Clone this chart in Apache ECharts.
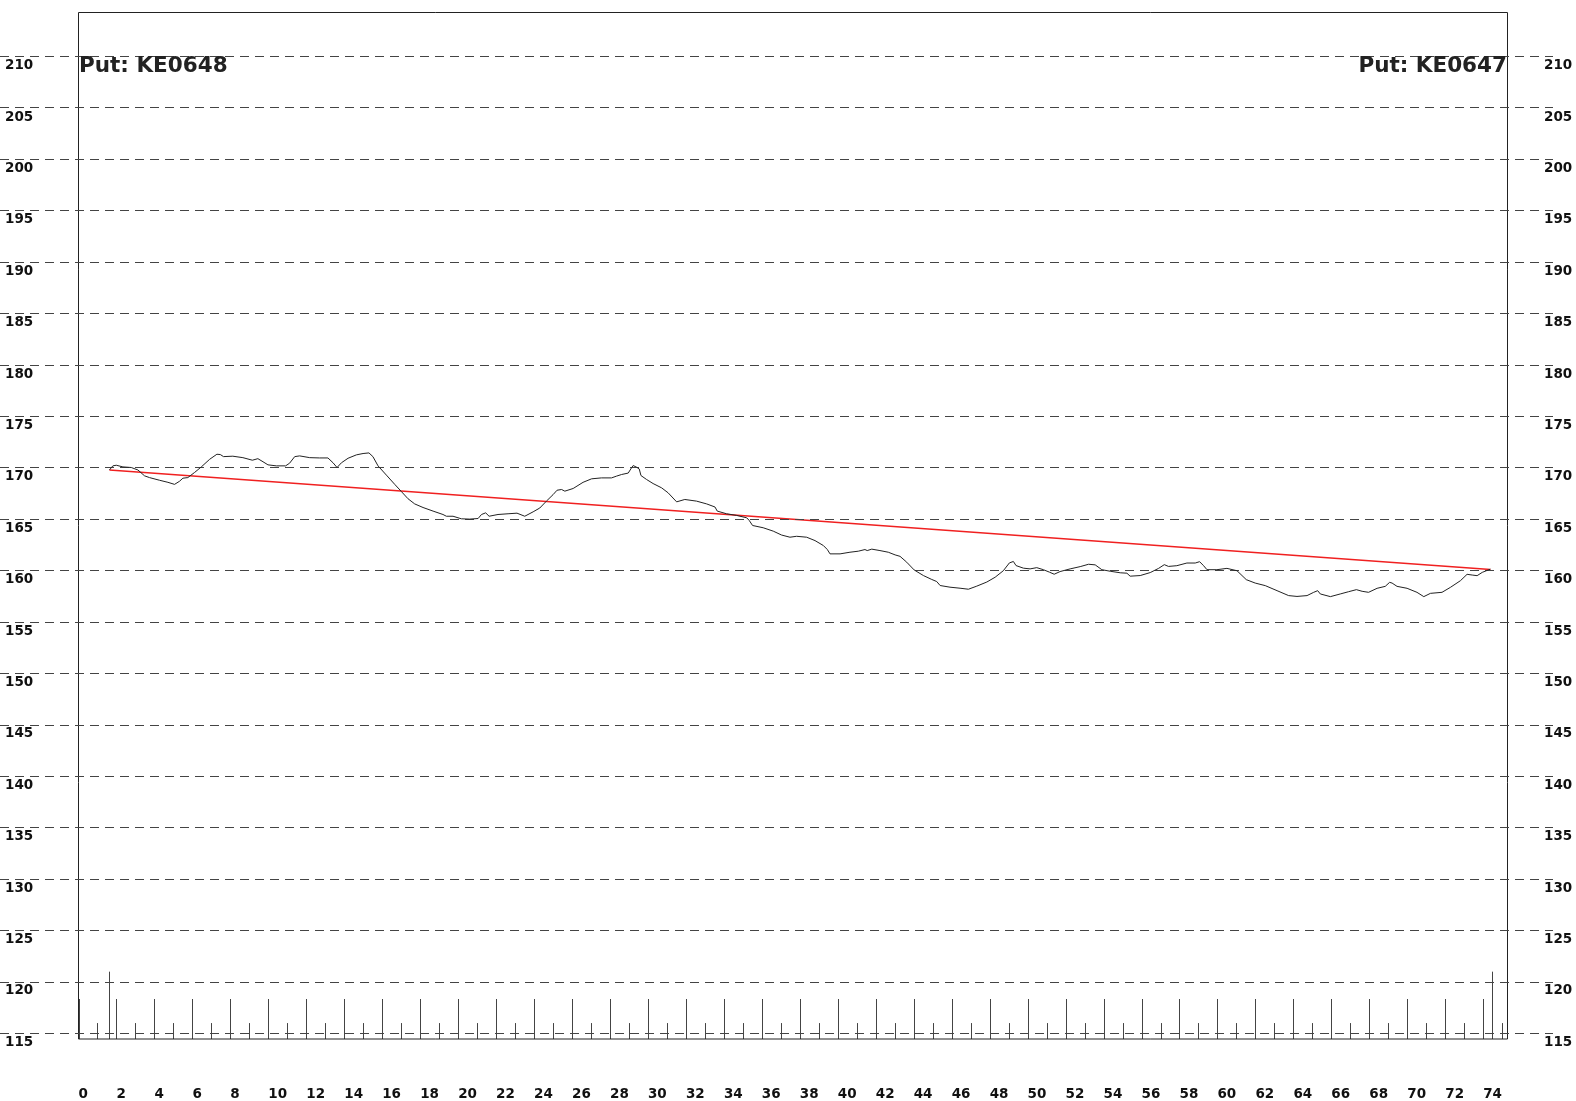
<!DOCTYPE html>
<html>
<head>
<meta charset="utf-8">
<script src="https://cdn.jsdelivr.net/npm/echarts@6/dist/echarts.min.js"></script>
<style>
html,body{margin:0;padding:0;background:#fff;}
#chart{width:1576px;height:1101px;}
</style>
</head>
<body>
<div id="chart"></div>
<script>
// ---- data ----
const titleLeft = 'Put: KE0648';
const titleRight = 'Put: KE0647';

const yTickValues = [115,120,125,130,135,140,145,150,155,160,165,170,175,180,185,190,195,200,205,210];
const xTickValues = [0,2,4,6,8,10,12,14,16,18,20,22,24,26,28,30,32,34,36,38,40,42,44,46,48,50,52,54,56,58,60,62,64,66,68,70,72,74];

const priceX = [1.63,1.81,1.99,2.34,2.78,3.13,3.48,3.74,4.27,4.71,5.06,5.32,5.50,5.76,6.11,6.47,6.91,7.29,7.47,7.64,
  8.13,8.66,9.16,9.45,9.72,9.98,10.42,10.91,11.12,11.39,11.65,12.18,12.70,13.14,13.41,13.62,13.85,14.20,14.64,14.99,
  15.30,15.51,15.78,16.22,16.66,17.01,17.36,17.71,18.15,18.68,19.20,19.38,19.73,20.17,20.61,21.05,21.23,21.45,21.63,22.10,
  22.63,23.10,23.51,23.95,24.30,24.65,25.00,25.21,25.45,25.62,26.06,26.58,27.03,27.55,28.08,28.34,28.61,28.96,29.13,29.22,
  29.40,29.54,29.63,29.93,30.27,30.72,31.06,31.51,31.94,32.56,33.09,33.53,33.65,34.14,34.67,35.20,35.33,35.51,36.07,36.60,
  37.04,37.48,37.83,38.36,38.80,39.24,39.45,39.59,40.12,40.64,41.08,41.43,41.55,41.79,42.22,42.66,43.02,43.28,43.63,44.02,
  44.51,44.95,45.21,45.39,45.91,46.44,46.88,47.32,47.85,48.29,48.72,49.04,49.25,49.39,49.78,50.13,50.48,50.83,51.15,51.40,
  51.71,52.24,52.77,53.21,53.56,53.91,54.35,54.88,55.23,55.40,55.93,56.46,56.90,57.20,57.42,57.86,58.39,58.83,59.06,59.27,
  59.45,59.97,60.50,61.03,61.52,61.99,62.52,63.14,63.75,64.19,64.72,65.07,65.28,65.42,65.95,66.47,66.91,67.32,67.62,67.96,
  68.41,68.84,69.07,69.20,69.46,69.99,70.51,70.87,71.22,71.83,72.27,72.80,73.15,73.42,73.68,73.95,74.30,74.38];
const priceY = [169.7,170.1,170.16,170.0,169.94,169.7,169.13,168.96,168.7,168.5,168.3,168.6,168.9,168.96,169.45,170.0,170.74,171.23,171.2,171.0,
  171.04,170.9,170.65,170.8,170.5,170.2,170.1,170.1,170.36,171.0,171.07,170.9,170.87,170.87,170.4,169.94,170.4,170.84,171.17,171.3,
  171.36,171.0,170.1,169.2,168.3,167.6,166.9,166.4,166.05,165.7,165.37,165.2,165.2,164.95,164.92,164.98,165.37,165.53,165.2,165.37,
  165.44,165.5,165.2,165.63,166.0,166.67,167.3,167.73,167.8,167.64,167.9,168.5,168.84,168.93,168.93,169.1,169.26,169.4,169.9,170.13,
  169.97,169.8,169.16,168.77,168.38,167.96,167.48,166.6,166.83,166.67,166.4,166.1,165.7,165.44,165.28,165.05,164.8,164.3,164.08,163.75,
  163.37,163.16,163.25,163.16,162.83,162.35,161.96,161.54,161.54,161.7,161.8,161.96,161.86,162.0,161.86,161.7,161.44,161.3,160.73,159.98,
  159.43,159.05,158.85,158.46,158.3,158.2,158.1,158.4,158.8,159.27,159.9,160.66,160.8,160.4,160.15,160.08,160.2,160.0,159.76,159.56,
  159.82,160.08,160.3,160.53,160.47,160.0,159.85,159.7,159.66,159.37,159.43,159.72,160.13,160.49,160.32,160.39,160.65,160.65,160.78,160.39,
  160.0,160.0,160.13,159.9,159.03,158.7,158.45,157.96,157.48,157.4,157.48,157.8,157.96,157.64,157.38,157.64,157.86,158.06,157.9,157.8,
  158.19,158.38,158.77,158.7,158.38,158.19,157.8,157.38,157.7,157.8,158.28,158.93,159.55,159.48,159.42,159.74,160.0,160.05];

const trendX = [1.63, 74.38];
const trendY = [169.7, 160.02];

const tallBarX = [0,2,4,6,8,10,12,14,16,18,20,22,24,26,28,30,32,34,36,38,40,42,44,46,48,50,52,54,56,58,60,62,64,66,68,70,72,74];
const tallBarTop = 118.24;
const shortBarX = [1,3,5,7,9,11,13,15,17,19,21,23,25,27,29,31,33,35,37,39,41,43,45,47,49,51,53,55,57,59,61,63,65,67,69,71,73,75];
const shortBarTop = 115.9;
const markerBarX = [1.62, 74.45];
const markerBarTop = 120.9;

// ---- axes ranges ----
const yMin = 114.35, yMax = 214.2;
const xMin = 0, xMax = 75.28;

const priceData = priceX.map((x, i) => [x, priceY[i]]);
const trendData = trendX.map((x, i) => [x, trendY[i]]);
const barData = []
  .concat(tallBarX.map(x => [x, tallBarTop]))
  .concat(shortBarX.map(x => [x, shortBarTop]))
  .concat(markerBarX.map(x => [x, markerBarTop]));

const labelFont = { fontFamily: 'DejaVu Sans', fontWeight: 'bold', fontSize: 13.5, color: '#111' };
const titleFont = { fontFamily: 'DejaVu Sans', fontWeight: 'bold', fontSize: 21.5, color: '#222' };

const chart = echarts.init(document.getElementById('chart'), null, { renderer: 'canvas' });
chart.setOption({
  backgroundColor: '#ffffff',
  animation: false,
  title: [
    { text: titleLeft, left: 79, top: 55, padding: 0, textStyle: titleFont },
    { text: titleRight, right: 69, top: 55, padding: 0, textStyle: titleFont }
  ],
  grid: [
    { left: 78.5, right: 68.5, top: 12.5, bottom: 60.5, show: true, borderColor: '#222', borderWidth: 1, backgroundColor: 'transparent', z: 3 },
    { left: 0, right: 23, top: 13, bottom: 61, show: false }
  ],
  xAxis: [
    { type: 'value', gridIndex: 0, min: xMin, max: xMax,
      axisLine: { show: false }, axisTick: { show: false }, splitLine: { show: false },
      axisLabel: Object.assign({ margin: 48, customValues: xTickValues, align: 'left' }, labelFont) },
    { type: 'value', gridIndex: 1, min: 0, max: 1, show: false }
  ],
  yAxis: [
    { type: 'value', gridIndex: 0, position: 'left', min: yMin, max: yMax,
      axisLine: { show: false }, axisTick: { show: false }, splitLine: { show: false },
      axisLabel: Object.assign({ customValues: yTickValues, align: 'left', margin: 73.5,
        verticalAlign: 'top', padding: [3, 0, 0, 0] }, labelFont) },
    { type: 'value', gridIndex: 0, position: 'right', min: yMin, max: yMax,
      axisLine: { show: false }, axisTick: { show: false }, splitLine: { show: false },
      axisLabel: Object.assign({ customValues: yTickValues, align: 'left', margin: 36.5,
        verticalAlign: 'top', padding: [3, 0, 0, 0] }, labelFont) },
    { type: 'value', gridIndex: 1, min: yMin, max: yMax, show: false }
  ],
  series: [
    { type: 'line', xAxisIndex: 1, yAxisIndex: 2, data: [], silent: true, z: 1,
      markLine: { silent: true, symbol: 'none', animation: false,
        label: { show: false },
        lineStyle: { color: '#444', width: 1, type: [9, 6] },
        data: yTickValues.map(v => ({ yAxis: v })) } },
    { type: 'custom', xAxisIndex: 0, yAxisIndex: 0, data: barData, z: 2, silent: true,
      renderItem: function (params, api) {
        const x = api.value(0), top = api.value(1);
        const pTop = api.coord([x, top]);
        const pBot = api.coord([x, yMin]);
        const px = Math.round(pTop[0]) + 0.5;
        return { type: 'line', shape: { x1: px, y1: pBot[1], x2: px, y2: pTop[1] },
          style: { stroke: '#444', lineWidth: 1 } };
      } },
    { type: 'line', xAxisIndex: 0, yAxisIndex: 0, data: trendData, showSymbol: false, z: 4,
      lineStyle: { color: '#f02020', width: 1.4 }, silent: true },
    { type: 'line', xAxisIndex: 0, yAxisIndex: 0, data: priceData, showSymbol: false, z: 5,
      lineStyle: { color: '#222', width: 1 }, silent: true }
  ]
});
</script>
</body>
</html>
